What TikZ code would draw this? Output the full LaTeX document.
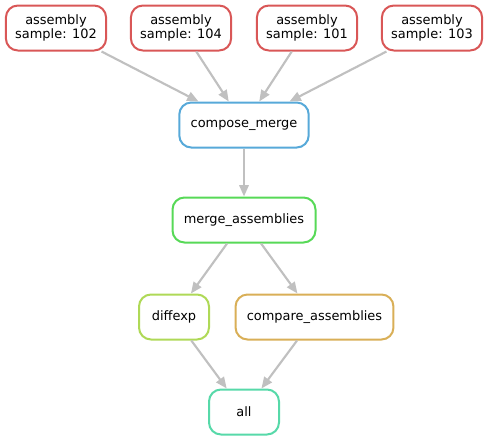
\documentclass[tikz,border=0pt]{standalone}
\usepackage{fontspec}
\setmainfont{DejaVu Sans}
\usetikzlibrary{arrows.meta}

\begin{document}
\begin{tikzpicture}[x=0.75pt,y=0.75pt,yscale=-1,xscale=1,
  rule/.style={draw, line width=1.5pt, rounded corners=9pt, fill=white,
    minimum width=52.5pt, minimum height=33.75pt, inner xsep=8.5pt,
    align=center, font=\fontsize{9.7}{10.9}\selectfont},
  sample/.style={rule, draw={rgb, 255:red, 217; green, 87; blue, 87}, inner xsep=7pt},
  dep/.style={draw={rgb, 255:red, 192; green, 192; blue, 192}, line width=1.6pt,
    -{Triangle[length=8.5pt,width=7pt]}}]
\useasboundingbox (0,0) rectangle (488,443);

%Shape: Rounded Rect [id:assembly]
\node [sample] (asm102) at (56,28) {assembly\\sample: 102};
\node [sample] (asm104) at (181,28) {assembly\\sample: 104};
\node [sample] (asm101) at (307,28) {assembly\\sample: 101};
\node [sample] (asm103) at (432,28) {assembly\\sample: 103};
%Shape: Rounded Rect [id:compose_merge]
\node [rule, draw={rgb, 255:red, 87; green, 169; blue, 217}] (compose) at (244,125) {compose\_merge};
%Shape: Rounded Rect [id:merge_assemblies]
\node [rule, draw={rgb, 255:red, 87; green, 217; blue, 87}] (mergeasm) at (244,220) {merge\_assemblies};
%Shape: Rounded Rect [id:diffexp]
\node [rule, draw={rgb, 255:red, 175; green, 217; blue, 87}] (diffexp) at (174,317) {diffexp};
%Shape: Rounded Rect [id:compare_assemblies]
\node [rule, draw={rgb, 255:red, 217; green, 175; blue, 87}] (compare) at (314.5,317) {compare\_assemblies};
%Shape: Rounded Rect [id:all]
\node [rule, draw={rgb, 255:red, 87; green, 217; blue, 169}] (all) at (244,412) {all};

%Straight Lines [id:edges]
\draw [dep] (asm102) -- (compose);
\draw [dep] (asm104) -- (compose);
\draw [dep] (asm101) -- (compose);
\draw [dep] (asm103) -- (compose);
\draw [dep] (compose) -- (mergeasm);
\draw [dep] (mergeasm) -- (diffexp);
\draw [dep] (mergeasm) -- (compare);
\draw [dep] (diffexp) -- (all);
\draw [dep] (compare) -- (all);

\end{tikzpicture}
\end{document}
